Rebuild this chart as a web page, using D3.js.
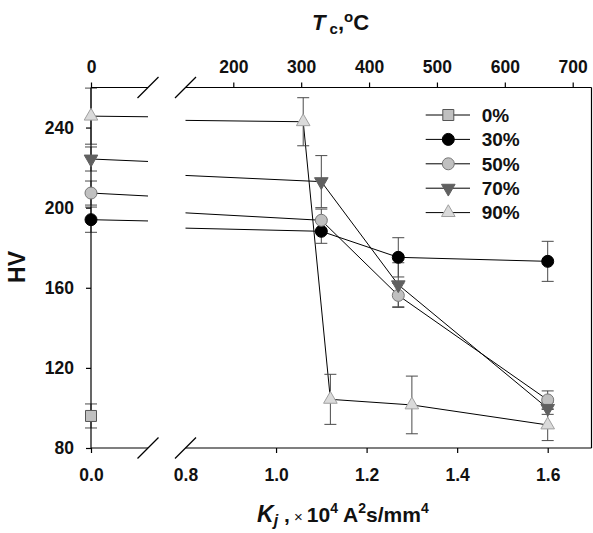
<!DOCTYPE html>
<html>
<head>
<meta charset="utf-8">
<script src="https://cdn.jsdelivr.net/npm/d3@7"></script>
<style>
body { margin: 0; background: #fff; }
text { font-family: "Liberation Sans", Arial, sans-serif; font-weight: bold; fill: #111; }
</style>
</head>
<body>
<svg id="chart" width="593" height="533"></svg>
<script>
// data
const seriesNames = ["0%", "30%", "50%", "70%", "90%"];

const kj0 = [0];
const hv0 = [96];
const err0 = [6];

const kj30 = [0, 1.10, 1.27, 1.60];
const hv30 = [194, 188.2, 175.2, 173.2];
const err30 = [6.3, 6, 9.8, 10];

const kj50 = [0, 1.10, 1.27, 1.60];
const hv50 = [207.3, 193.7, 156.2, 104];
const err50 = [6, 5.6, 6, 4.5];

const kj70 = [0, 1.10, 1.27, 1.60];
const hv70 = [224.3, 213, 161.5, 99.8];
const err70 = [6, 13, 11, 3];

const kj90 = [0, 1.06, 1.12, 1.30, 1.60];
const hv90 = [245.7, 242.9, 104.3, 101.5, 91.5];
const err90 = [14, 12, 12.5, 14.4, 7.8];

const hvTicks = [80, 120, 160, 200, 240];
const kjTicks = [0.8, 1.0, 1.2, 1.4, 1.6];
const tcTicks = [200, 300, 400, 500, 600, 700];

const styles = [
    { sym: d3.symbolSquare, size: 121, rot: 0, fill: "#c0c0c0", stroke: "#555" },
    { sym: d3.symbolCircle, size: 113, rot: 0, fill: "#000", stroke: "#000" },
    { sym: d3.symbolCircle, size: 113, rot: 0, fill: "#c0c0c0", stroke: "#777" },
    { sym: d3.symbolTriangle, size: 80, rot: 180, fill: "#606060", stroke: "#606060" },
    { sym: d3.symbolTriangle, size: 80, rot: 0, fill: "#dadada", stroke: "#a0a0a0" }
];

const series = [
    [kj0, hv0, err0], [kj30, hv30, err30], [kj50, hv50, err50],
    [kj70, hv70, err70], [kj90, hv90, err90]
].map((s, i) => ({
    name: seriesNames[i],
    style: styles[i],
    points: s[0].map((k, j) => ({ x: k, y: s[1][j], e: s[2][j] }))
}));

const svg = d3.select("#chart");

const plotL = 91, plotR = 591.5, plotT = 87.5, plotB = 448;
const breakL = 148, breakR = 185.5;

const y = d3.scaleLinear().domain([80, 260]).range([plotB, plotT]);
const xL = d3.scaleLinear().domain([0, 0.12]).range([plotL, breakL]);
const xR = d3.scaleLinear().domain([0.8, 1.6]).range([breakR, 547.7]);
const tR = d3.scaleLinear().domain([200, 700]).range([233.3, 572.7]);

const px = d => d.x < 0.5 ? xL(d.x) : xR(d.x);

// clip regions for the two panels
const defs = svg.append("defs");
defs.append("clipPath").attr("id", "clipL").append("rect")
    .attr("x", plotL).attr("y", 0).attr("width", breakL - plotL).attr("height", 533);
defs.append("clipPath").attr("id", "clipR").append("rect")
    .attr("x", breakR).attr("y", 0).attr("width", plotR - breakR).attr("height", 533);

// connecting lines, drawn in each panel
const lineL = d3.line().x(d => xL(d.x)).y(d => y(d.y));
const lineR = d3.line().x(d => xR(d.x)).y(d => y(d.y));
const lines = svg.append("g").attr("fill", "none").attr("stroke", "#000").attr("stroke-width", 1);
series.forEach(s => {
    if (s.points.length < 2) return;
    lines.append("path").attr("clip-path", "url(#clipL)").attr("d", lineL(s.points));
    lines.append("path").attr("clip-path", "url(#clipR)").attr("d", lineR(s.points));
});

// error bars
const eb = svg.append("g").attr("stroke", "#4a4a4a").attr("stroke-width", 1);
series.forEach(s => {
    s.points.forEach(d => {
        const cx = px(d);
        eb.append("line").attr("x1", cx).attr("x2", cx).attr("y1", y(d.y - d.e)).attr("y2", y(d.y + d.e));
        [d.y - d.e, d.y + d.e].forEach(v => {
            eb.append("line").attr("x1", cx - 6).attr("x2", cx + 6).attr("y1", y(v)).attr("y2", y(v));
        });
    });
});

// axes frame
const frame = svg.append("g").attr("stroke", "#000").attr("stroke-width", 1.2);
frame.append("line").attr("x1", plotL).attr("x2", plotL).attr("y1", plotT).attr("y2", plotB);
frame.append("line").attr("x1", plotR).attr("x2", plotR).attr("y1", plotT).attr("y2", plotB);
[plotT, plotB].forEach(ay => {
    frame.append("line").attr("x1", plotL).attr("x2", breakL).attr("y1", ay).attr("y2", ay);
    frame.append("line").attr("x1", breakR).attr("x2", plotR).attr("y1", ay).attr("y2", ay);
    [breakL, breakR].forEach(bx => {
        frame.append("line").attr("x1", bx - 10.5).attr("x2", bx + 10.5)
            .attr("y1", ay + 10.5).attr("y2", ay - 10.5);
    });
});

function styleAxis(g) {
    g.select(".domain").remove();
    g.selectAll("line").attr("stroke", "#000").attr("stroke-width", 1.2);
    g.selectAll("text").style("font-size", "17.5px").attr("fill", "#111");
}

svg.append("g").attr("transform", `translate(${plotL},0)`)
    .call(d3.axisLeft(y).tickValues(hvTicks).tickSize(5).tickPadding(12))
    .call(styleAxis);

svg.append("g").attr("transform", `translate(0,${plotB})`)
    .call(d3.axisBottom(xR).tickValues(kjTicks).tickFormat(d3.format(".1f")).tickSize(5).tickPadding(16))
    .call(styleAxis)
    .call(g => g.selectAll(".tick").filter(d => d === 0.8).select("line").remove());

svg.append("g").attr("transform", `translate(0,${plotB})`)
    .call(d3.axisBottom(xL).tickValues([0]).tickFormat(d3.format(".1f")).tickSize(5).tickPadding(16))
    .call(styleAxis);

svg.append("g").attr("transform", `translate(0,${plotT})`)
    .call(d3.axisTop(tR).tickValues(tcTicks).tickSize(5).tickPadding(10))
    .call(styleAxis);

svg.append("g").attr("transform", `translate(0,${plotT})`)
    .call(d3.axisTop(xL).tickValues([0]).tickFormat(d3.format("d")).tickSize(5).tickPadding(10))
    .call(styleAxis);

// markers
const sym = d3.symbol();
series.forEach(s => {
    svg.append("g").selectAll("path").data(s.points).join("path")
        .attr("d", sym.type(s.style.sym).size(s.style.size)())
        .attr("transform", d => `translate(${px(d)},${y(d.y)}) rotate(${s.style.rot})`)
        .attr("fill", s.style.fill).attr("stroke", s.style.stroke).attr("stroke-width", 1);
});

// legend
const legend = svg.append("g");
series.forEach((s, i) => {
    const ly = 115 + i * 24.4;
    legend.append("line").attr("x1", 425.7).attr("x2", 470).attr("y1", ly).attr("y2", ly)
        .attr("stroke", "#000").attr("stroke-width", 1);
    legend.append("path").attr("d", sym.type(s.style.sym).size(s.style.size)())
        .attr("transform", `translate(448.3,${ly}) rotate(${s.style.rot})`)
        .attr("fill", s.style.fill).attr("stroke", s.style.stroke);
    legend.append("text").attr("x", 481.7).attr("y", ly).attr("dy", "0.36em")
        .style("font-size", "19px").text(s.name);
});

// axis titles
svg.append("text").attr("transform", "translate(25,267) rotate(-90)")
    .attr("text-anchor", "middle").style("font-size", "23px").text("HV");

const tt = svg.append("text").attr("x", 312).attr("y", 30).style("font-size", "22px");
tt.append("tspan").style("font-style", "italic").text("T");
tt.append("tspan").style("font-size", "15px").attr("dy", 4).text(" c");
tt.append("tspan").attr("dy", -4).text(",");
tt.append("tspan").style("font-size", "15px").attr("dy", -8).text("o");
tt.append("tspan").attr("dy", 8).text("C");

const bt = svg.append("text").attr("x", 257).attr("y", 522).style("font-size", "21px");
bt.append("tspan").style("font-style", "italic").style("font-size", "23px").text("K");
bt.append("tspan").style("font-style", "italic").style("font-size", "16px").attr("dy", 4).text("j");
bt.append("tspan").attr("dy", -4).text(" ,");
bt.append("tspan").style("font-weight", "normal").style("font-size", "15px").text(" \u00d7 ");
bt.append("tspan").text("10");
bt.append("tspan").style("font-size", "14px").attr("dy", -9).text("4");
bt.append("tspan").attr("dy", 9).text(" A");
bt.append("tspan").style("font-size", "14px").attr("dy", -9).text("2");
bt.append("tspan").attr("dy", 9).text("s/mm");
bt.append("tspan").style("font-size", "14px").attr("dy", -9).text("4");
</script>
</body>
</html>
